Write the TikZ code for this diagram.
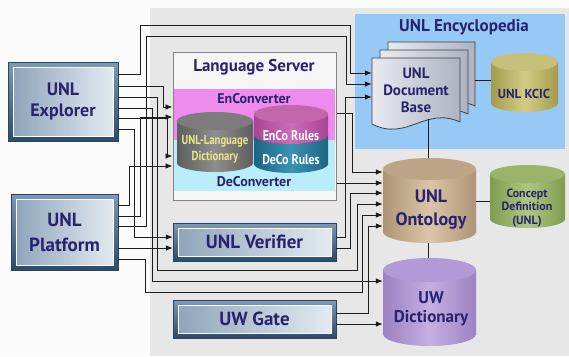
\documentclass[tikz,border=0pt]{standalone}
\usepackage{fontspec}
\usepackage{graphicx}
\setmainfont{PT Sans}
\usetikzlibrary{arrows.meta}
\definecolor{navy}{HTML}{29236F}
\definecolor{bggray}{HTML}{E7E7E7}
\definecolor{leftbg}{HTML}{FBFBFB}
\definecolor{frmL}{HTML}{7D99B4}
\definecolor{frmD}{HTML}{2C4B69}
\definecolor{frmE}{HTML}{2A4560}
\definecolor{inL}{HTML}{8FA5BC}
\definecolor{inR}{HTML}{E3EAF0}
\definecolor{lsbd}{HTML}{858585}
\definecolor{lsfill}{HTML}{F5F5F5}
\definecolor{pinkb}{HTML}{EE8CEE}
\definecolor{cyanb}{HTML}{B9EDFA}
\definecolor{encb}{HTML}{96C9F6}
\definecolor{linec}{HTML}{1C1C1C}
\definecolor{dictyel}{HTML}{EDE58A}
\definecolor{grayD}{HTML}{5E5E5E}
\definecolor{grayM}{HTML}{8E8E8E}
\definecolor{grayT}{HTML}{7C7C7C}
\definecolor{magD}{HTML}{A84494}
\definecolor{magM}{HTML}{CC6DB8}
\definecolor{magT}{HTML}{C466AE}
\definecolor{tealD}{HTML}{1C6584}
\definecolor{tealM}{HTML}{3A93B3}
\definecolor{kcD}{HTML}{A49C4A}
\definecolor{kcM}{HTML}{D2CB88}
\definecolor{kcT}{HTML}{C8C07A}
\definecolor{onD}{HTML}{AE9476}
\definecolor{onM}{HTML}{DBC5A8}
\definecolor{onT}{HTML}{BFA588}
\definecolor{cdD}{HTML}{7E9C50}
\definecolor{cdM}{HTML}{AFC880}
\definecolor{cdT}{HTML}{9AB46A}
\definecolor{uwD}{HTML}{9C82C2}
\definecolor{uwM}{HTML}{C4AEE2}
\definecolor{uwT}{HTML}{B29AD8}
\definecolor{pgL}{HTML}{E8EAF0}
\definecolor{pgR}{HTML}{AEB3C2}
\newcommand\mycyl[8]{%
  \shade[left color=#6,right color=#6,middle color=#7] (#1,#3) rectangle (#2,#4);
  \shade[left color=#6,right color=#6,middle color=#7] ({(#1+#2)/2},#4) ellipse [x radius={(#2-#1)/2}, y radius=#5];
  \fill[#8] ({(#1+#2)/2},#3) ellipse [x radius={(#2-#1)/2}, y radius=#5];
}
\newcommand\steelbox[4]{%
  \shade[top color=frmL, bottom color=frmD, draw=frmE, line width=0.8pt] (#1,#2) rectangle (#3,#4);
  \shade[left color=inL, right color=inR, draw=white!75!inR, line width=0.6pt] (#1+5,#2+5) rectangle (#3-5,#4-5);
}
\newcommand\docpage[4]{%
  \shade[left color=pgL, right color=pgR, draw=black!75, line width=0.8pt]
    (#1,#2) -- (#3,#2) -- (#3,#4-6) .. controls (#3-35,#4-22) and (#1+35,#4+14) .. (#1,#4-4) -- cycle;
}
\tikzset{
  ln/.style={draw=linec, line width=0.8pt},
  ar/.style={ln, -{Latex[length=7pt,width=5.5pt]}},
  lbl/.style={text=navy, font=\bfseries\fontsize{#1}{#1}\selectfont, align=center, inner sep=0pt},
  anchorbox/.style={inner sep=0pt, minimum width=#1},
}
\begin{document}
\begin{tikzpicture}[x=1pt,y=-1pt]
\useasboundingbox (0,0) rectangle (569,356);
\fill[leftbg] (0,0) rectangle (569,356);
\fill[bggray] (150,8) rectangle (569,356);
\fill[encb] (355,14) rectangle (565,149);
\node[lbl=17] (enct) at (464,27) {UNL Encyclopedia};

% steel boxes
\steelbox{8}{62}{118}{141}
\node[lbl=18, font=\bfseries\fontsize{18}{21}\selectfont, minimum width=110pt, minimum height=79pt] (ex) at (63,101.5) {UNL\\Explorer};
\steelbox{11}{194}{118}{270}
\node[lbl=19, font=\bfseries\fontsize{19}{25}\selectfont, minimum width=107pt, minimum height=76pt] (pl) at (64.5,232) {UNL\\Platform};
\steelbox{173}{223}{336}{261}
\node[lbl=19, minimum width=163pt, minimum height=38pt] (ver) at (254.5,242) {UNL Verifier};
\steelbox{173}{300}{336}{338}
\node[lbl=19, minimum width=163pt, minimum height=38pt] (gate) at (254.5,319) {UW Gate};

% language server
\node[draw=lsbd, fill=lsfill, line width=1pt, inner sep=0pt, minimum width=163pt, minimum height=148pt] (ls) at (254.5,126) {};
\fill[pinkb] (174,89) rectangle (335,140);
\fill[cyanb] (174,140) rectangle (335,191);
\node[lbl=17] (lst) at (254,67) {Language Server};
\node[lbl=14] (enc) at (254,99) {EnConverter};
\node[lbl=14] (dec) at (254,182) {DeConverter};
\mycyl{177}{253}{121}{163}{9}{grayD}{grayM}{grayT}
\node[lbl=13, text=dictyel, font=\bfseries\fontsize{13}{15.5}\selectfont] (dict) at (215,149) {\scalebox{0.82}[1]{UNL-Language}\\\scalebox{0.82}[1]{Dictionary}};
\mycyl{254}{328}{135}{164}{9}{tealD}{tealM}{tealD}
\mycyl{254}{328}{114}{135}{9}{magD}{magM}{magT}
\node[lbl=14, text=white] (enco) at (291,136) {\scalebox{0.85}[1]{EnCo Rules}};
\node[lbl=14, text=white] (deco) at (291,160) {\scalebox{0.85}[1]{DeCo Rules}};

% document base
\docpage{388}{42}{475}{112}
\docpage{380}{50}{468}{120}
\docpage{372}{58}{460}{128}
\node[lbl=15, font=\bfseries\fontsize{15}{17}\selectfont, minimum width=88pt] (db) at (416,90) {UNL\\Document\\Base};
\coordinate (dbb) at (428,119);
\coordinate (dbr) at (475,80);

% cylinders
\mycyl{491}{558}{62}{103}{9}{kcD}{kcM}{kcT}
\node[anchorbox=67pt, minimum height=59pt] (kcic) at (524.5,82.5) {};
\node[lbl=13] (kct) at (524,94) {UNL KCIC};
\mycyl{383}{476}{169}{232}{11}{onD}{onM}{onT}
\node[anchorbox=93pt, minimum height=85pt] (ont) at (429.5,200.5) {};
\node[lbl=18, font=\bfseries\fontsize{18}{23}\selectfont] (ontt) at (431,210) {UNL\\Ontology};
\mycyl{490}{565}{174}{219}{9}{cdD}{cdM}{cdT}
\node[anchorbox=75pt, minimum height=63pt] (cd) at (527.5,196.5) {};
\node[lbl=12, font=\bfseries\fontsize{12}{13.5}\selectfont] (cdt) at (527,208) {Concept\\Definition\\(UNL)};
\mycyl{383}{476}{270}{334}{12}{uwD}{uwM}{uwT}
\node[anchorbox=93pt, minimum height=88pt] (uwd) at (429.5,302) {};
\node[lbl=17, font=\bfseries\fontsize{17}{19}\selectfont] (uwdt) at (431,309) {UW\\Dictionary};

% plain links
\draw[ln] (dbr) -- (kcic.west |- dbr);
\draw[ln] (dbb) -- (ont.north -| dbb);
\draw[ln] (ont.south -| dbb) -- (uwd.north -| dbb);
\draw[ln] (ont.east |- 0,201) -- (cd.west |- 0,201);

% Explorer
\draw[ar] (ex.east |- 0,74) -| (140,25) -| (350,73) -- (db.west |- 0,73);
\draw[ar] (ex.east |- 0,86) -| (163,107) -- (ls.west |- 0,107);
\draw[ar] (ex.east |- 0,97) -| (157,270) -| (357,204) -- (ont.west |- 0,204);
\draw[ar] (ex.east |- 0,108) -| (152,281) -- (uwd.west |- 0,281);
\draw[ar] (ex.east |- 0,118) -| (167,156) -- (ls.west |- 0,156);
\draw[ar] (ex.east |- 0,129) -| (134,237) -- (ver.west |- 0,237);
% Platform
\draw[ar] (pl.east |- 0,205) -| (129,166) -- (ls.west |- 0,166);
\draw[ar] (pl.east |- 0,216) -| (140,117) -- (ls.west |- 0,117);
\draw[ar] (pl.east |- 0,226) -| (146,36) -| (346,84) -- (db.west |- 0,84);
\draw[ar] (pl.east |- 0,248) -- (ver.west |- 0,248);
\draw[ar] (pl.east |- 0,259) -| (145,292) -| (362,215) -- (ont.west |- 0,215);
% Language server
\draw[ar] (ls.east |- 0,113) -| (352,172) -- (ont.west |- 0,172);
\draw[ar] (ls.east |- 0,183) -- (ont.west |- 0,183);
% Verifier
\draw[ar] (ver.east |- 0,237) -| (345,97) -- (db.west |- 0,97);
\draw[ar] (ver.east |- 0,248) -| (350,193) -- (ont.west |- 0,193);
% UW Gate
\draw[ar] (gate.east |- 0,313) -| (368,226) -- (ont.west |- 0,226);
\draw[ar] (gate.east |- 0,324) -- (uwd.west |- 0,324);
\end{tikzpicture}
\end{document}
